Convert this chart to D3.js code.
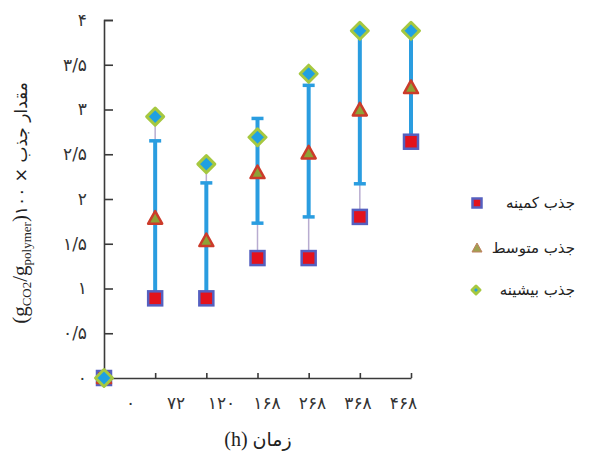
<!DOCTYPE html>
<html><head><meta charset="utf-8">
<script src="https://cdn.jsdelivr.net/npm/d3@7"></script>
<style>body{margin:0;background:#fff}svg{display:block}</style>
</head><body>
<svg id="c" width="609" height="459"></svg>
<script>
const categories = ["۰","۷۲","۱۲۰","۱۶۸","۲۶۸","۳۶۸","۴۶۸"];
const minVals  = [0, 0.89, 0.89, 1.34, 1.34, 1.80, 2.64];
const midVals  = [0, 1.78, 1.53, 2.29, 2.51, 2.99, 3.24];
const maxVals  = [0, 2.92, 2.39, 2.69, 3.40, 3.88, 3.88];
const errLow   = [null, 0.89, 0.89, 1.73, 1.80, 2.17, 2.64];
const errHigh  = [null, 2.65, 2.18, 2.90, 3.27, 3.88, 3.88];
const yTicks = [0, 0.5, 1, 1.5, 2, 2.5, 3, 3.5, 4];
const yTickLabels = ["۰","۰/۵","۱","۱/۵","۲","۲/۵","۳","۳/۵","۴"];
const legendLabels = ["جذب کمینه","جذب متوسط","جذب بیشینه"];

const svg = d3.select("#c");
const AR = "'DejaVu Sans', sans-serif";
const SER = "'Liberation Serif', serif";
const idx = d3.range(categories.length);
const x = d3.scalePoint().domain(idx).range([104, 411]);
const xLab = d3.scalePoint().domain(idx).range([130, 403]);
const y = d3.scaleLinear().domain([0, 4]).range([378, 20]);

// y axis
const ya = svg.append("g").attr("transform","translate(104,0)")
  .call(d3.axisLeft(y).tickValues(yTicks).tickSize(-9).tickPadding(17)
    .tickFormat((d,i)=>yTickLabels[i]));
ya.selectAll("path,line").attr("stroke","#3a3a3a").attr("stroke-width",1.6);
ya.selectAll("text").attr("font-family",AR).attr("font-size",17).attr("fill","#333");

// x axis
const xa = svg.append("g").attr("transform","translate(0,378)")
  .call(d3.axisBottom(x).tickSize(-5).tickSizeOuter(0).tickFormat(""));
xa.selectAll("path,line").attr("stroke","#3a3a3a").attr("stroke-width",1.6);
xa.selectAll(".tick").filter(d=>d===0).remove();
const xl = svg.append("g").attr("transform","translate(0,397)")
  .call(d3.axisBottom(xLab).tickSize(0).tickPadding(0).tickFormat((d)=>categories[d]));
xl.select(".domain").remove();
xl.selectAll("text").attr("font-family",AR).attr("font-size",17).attr("fill","#333");

// range lines and error bars
const g = svg.append("g");
idx.forEach(i=>{
  if (i===0) return;
  g.append("line").attr("x1",x(i)).attr("x2",x(i)).attr("y1",y(minVals[i])).attr("y2",y(maxVals[i]))
    .attr("stroke","#b8acd0").attr("stroke-width",1.5);
  g.append("line").attr("x1",x(i)).attr("x2",x(i)).attr("y1",y(errLow[i])).attr("y2",y(errHigh[i]))
    .attr("stroke","#2a9de0").attr("stroke-width",4);
  [errLow[i], errHigh[i]].forEach(v=>{
    g.append("line").attr("x1",x(i)-6).attr("x2",x(i)+6).attr("y1",y(v)).attr("y2",y(v))
      .attr("stroke","#2a9de0").attr("stroke-width",3.5);
  });
});

function square(sel, cx, cy, s){
  sel.append("rect").attr("x",cx-s/2).attr("y",cy-s/2).attr("width",s).attr("height",s)
    .attr("fill","#e3121c").attr("stroke","#5560c0").attr("stroke-width",2.5);
}
function tri(sel, cx, cy, s){
  const h = s*0.9;
  sel.append("path").attr("d",`M${cx},${cy-h*0.6}L${cx+s/2},${cy+h*0.4}L${cx-s/2},${cy+h*0.4}Z`)
    .attr("fill","#8ea236").attr("stroke","#cc3b2a").attr("stroke-width",2.5).attr("stroke-linejoin","round");
}
function diamond(sel, cx, cy, s){
  const r = s/2;
  sel.append("path").attr("d",`M${cx},${cy-r}L${cx+r},${cy}L${cx},${cy+r}L${cx-r},${cy}Z`)
    .attr("fill","#1fa0e2").attr("stroke","#a6c840").attr("stroke-width",3).attr("stroke-linejoin","round");
}
idx.forEach(i=>square(g, x(i), y(minVals[i]), 14));
idx.forEach(i=>tri(g, x(i), y(midVals[i]), 14));
idx.forEach(i=>diamond(g, x(i), y(maxVals[i]), 17));

// legend
const lg = svg.append("g");
const ly = [203, 248, 290];
square(lg, 477, ly[0], 9);
lg.append("path").attr("d",`M477,${ly[1]-5}L482,${ly[1]+4}L472,${ly[1]+4}Z`).attr("fill","#a0a050").attr("stroke","#c08060").attr("stroke-width",1);
diamond(lg, 476, ly[2], 8);
legendLabels.forEach((t,i)=>{
  lg.append("text").attr("x",575).attr("y",ly[i]).attr("dy","0.35em").attr("text-anchor","end")
    .attr("font-family",AR).attr("font-size",15).attr("fill","#222").text(t);
});

// x title
const xt = svg.append("text").attr("x",258).attr("y",446).attr("text-anchor","middle")
  .attr("font-size",19).attr("fill","#222");
xt.append("tspan").attr("font-family",SER).attr("font-size",20).text("(h) ");
xt.append("tspan").attr("font-family",AR).text("زمان");

// y title
const yt = svg.append("text").attr("transform","translate(27,203) rotate(-90)")
  .attr("text-anchor","middle").attr("font-size",17).attr("fill","#222").attr("direction","ltr");
yt.append("tspan").attr("font-family",SER).attr("font-size",21).text("(g");
yt.append("tspan").attr("font-family",SER).attr("font-size",13).attr("dy",4).text("CO2");
yt.append("tspan").attr("font-family",SER).attr("font-size",21).attr("dy",-4).text("/g");
yt.append("tspan").attr("font-family",SER).attr("font-size",13).attr("dy",4).text("polymer");
yt.append("tspan").attr("font-family",SER).attr("font-size",21).attr("dy",-4).text(")");
yt.append("tspan").attr("font-family",AR).attr("font-size",17).text("۱۰۰ × ");
yt.append("tspan").attr("font-family",AR).attr("font-size",17).text("مقدار جذب");
</script>
</body></html>
